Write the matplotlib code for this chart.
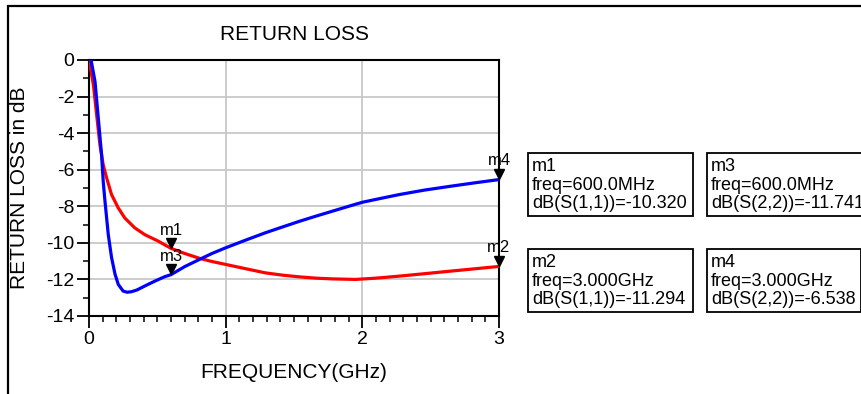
import numpy as np
import matplotlib
matplotlib.use("Agg")
import matplotlib.pyplot as plt
import matplotlib.transforms as mtransforms
from matplotlib.patches import Rectangle

plt.rcParams['font.family'] = ['Liberation Sans', 'DejaVu Sans']

# --- data ---
# S(1,1) (red)
f_s11 = [0.0, 0.007, 0.032, 0.056, 0.08, 0.104, 0.129, 0.165, 0.214, 0.262, 0.335,
         0.408, 0.505, 0.6, 0.7, 0.81, 0.9, 1.0, 1.15, 1.29, 1.42, 1.54, 1.66, 1.78,
         1.95, 2.1, 2.27, 2.45, 2.64, 2.82, 3.0]
db_s11 = [-0.1, -0.3, -1.36, -3.0, -4.64, -5.73, -6.45, -7.36, -8.09, -8.64, -9.18,
          -9.55, -9.9, -10.3, -10.58, -10.85, -11.02, -11.18, -11.42, -11.64, -11.77,
          -11.86, -11.93, -11.97, -12.0, -11.93, -11.82, -11.69, -11.55, -11.42, -11.29]

# S(2,2) (blue)
f_s22 = [0.015, 0.044, 0.068, 0.092, 0.104, 0.117, 0.141, 0.165, 0.19, 0.214, 0.25,
         0.28, 0.311, 0.35, 0.408, 0.48, 0.554, 0.6, 0.7, 0.81, 0.9, 1.0, 1.15, 1.29,
         1.42, 1.54, 1.66, 1.78, 1.9, 2.0, 2.14, 2.27, 2.45, 2.64, 2.82, 3.0]
db_s22 = [0.0, -1.18, -3.18, -5.18, -6.64, -7.73, -9.55, -10.8, -11.7, -12.27, -12.64,
          -12.7, -12.67, -12.58, -12.36, -12.1, -11.85, -11.74, -11.3, -10.9, -10.58,
          -10.27, -9.84, -9.45, -9.12, -8.82, -8.54, -8.27, -8.0, -7.78, -7.56, -7.36,
          -7.12, -6.91, -6.72, -6.54]

# markers
marker_names = ['m1', 'm2', 'm3', 'm4']
marker_freq = [0.6, 3.0, 0.6, 3.0]
marker_db = [-10.320, -11.294, -11.741, -6.538]
marker_freq_text = ['600.0MHz', '3.000GHz', '600.0MHz', '3.000GHz']
marker_param = ['S(1,1)', 'S(1,1)', 'S(2,2)', 'S(2,2)']

W, H = 862, 394


def px(x, y):
    # pixel coords (from top-left) to figure fraction
    return x / W, 1 - y / H


fig = plt.figure(figsize=(W / 100, H / 100), dpi=100)
ax = fig.add_axes([89 / W, 1 - 316 / H, 410 / W, 256 / H])

ax.plot(f_s11, db_s11, color='#ff0000', lw=2.3, zorder=3)
ax.plot(f_s22, db_s22, color='#0000ff', lw=2.3, zorder=4)

ax.set_xlim(0, 3)
ax.set_ylim(-14, 0)
ax.set_xticks([0, 1, 2, 3])
ax.set_xticklabels(['0', '1', '2', '3'])
ax.set_xticks(np.arange(0, 3.01, 0.1), minor=True)
ax.set_yticks(np.arange(-14, 0.1, 2))
ax.set_yticklabels(['-14', '-12', '-10', '-8', '-6', '-4', '-2', '0'])
ax.set_yticks(np.arange(-13, 0, 2), minor=True)
ax.tick_params(which='major', length=8.5, width=1.3, labelsize=14, pad=2, color='black')
ax.tick_params(which='minor', length=4, width=1.1, color='black')
ax.grid(True, which='major', color='#c8c8c8', lw=1.3)
for sp in ax.spines.values():
    sp.set_linewidth(1.5)
    sp.set_color('black')

# markers: down-triangles sitting on the curve with their label above
tri_shift = mtransforms.offset_copy(ax.transData, fig=fig, x=0, y=4, units='points')
for name, f, db in zip(marker_names, marker_freq, marker_db):
    ax.plot([f], [db], marker='v', color='black', ms=7, transform=tri_shift,
            clip_on=False, zorder=6, linestyle='none')
    ax.annotate(name, (f, db), xytext=(0, 8), textcoords='offset points',
                ha='center', va='bottom', fontsize=12, annotation_clip=False, zorder=7)

# texts
fig.text(*px(294, 34), 'RETURN LOSS', ha='center', va='center', fontsize=15)
fig.text(*px(294, 373), 'FREQUENCY(GHz)', ha='center', va='center', fontsize=15)
fig.text(*px(20, 188), 'RETURN LOSS in dB', ha='center', va='center', fontsize=15,
         rotation=90)

# outer frame
x0, y0 = px(8, 6)
fig.add_artist(Rectangle((x0, -0.2), 1.5, y0 + 0.2, transform=fig.transFigure,
                         fill=False, ec='black', lw=1.6))

# marker readout boxes
box_pos = [(528, 153), (528, 249), (707, 153), (707, 249)]
box_w, box_h = [165, 165, 165, 154], 63
for i, (name, ftxt, par, db) in enumerate(zip(marker_names, marker_freq_text,
                                              marker_param, marker_db)):
    bx, by = box_pos[i]
    rx, ry = px(bx, by + box_h)
    fig.add_artist(Rectangle((rx, ry), box_w[i] / W, box_h / H,
                             transform=fig.transFigure, fill=True, fc='white',
                             ec='black', lw=1.3))
    tx, ty = px(bx + 4, by + 5)
    fig.text(tx, ty, f'{name}\nfreq={ftxt}\ndB({par})={db:.3f}', ha='left', va='top',
             fontsize=13, linespacing=1.12)

fig.savefig('out.png', dpi=100)
